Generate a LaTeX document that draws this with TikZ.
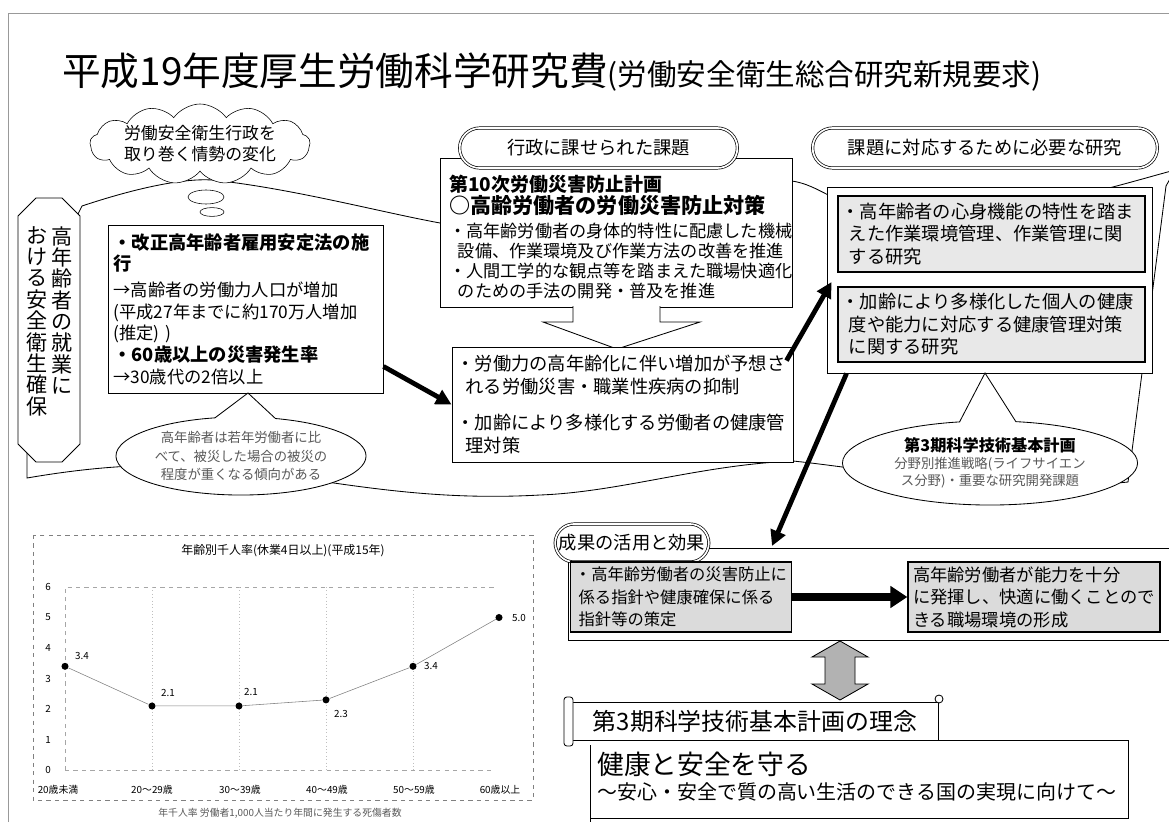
\documentclass[tikz,border=0pt]{standalone}
\usepackage{fontspec}
\setmainfont{Noto Sans CJK JP}
\usetikzlibrary{shapes.symbols,shapes.misc,shapes.geometric,shapes.callouts,arrows.meta,positioning,calc}

\begin{document}
\begin{tikzpicture}[x=0.025cm, y=-0.025cm,
    box/.style={draw, fill=white, line width=0.6pt, inner xsep=3pt, inner ysep=0pt, align=left},
    graybox/.style={box, fill=gray!18, line width=0.9pt},
    pill/.style={rounded rectangle, draw, double, double distance=1.2pt, line width=0.5pt, fill=white, minimum height=1cm,
      font=\fontsize{13}{15}\selectfont},
    bigarrow/.style={line width=3.4pt, -{Triangle[length=11pt,width=11pt]}},
    tag/.style={ellipse callout, draw, fill=white, line width=0.6pt, align=center, inner sep=0pt, callout pointer arc=28},
    small/.style={font=\fontsize{7}{8}\selectfont},
    chartdot/.style={circle, fill=black, inner sep=0pt, minimum size=5pt}
  ]
  \useasboundingbox (0,0) rectangle (1169,822);

  % page frame
  \draw[gray!80, line width=0.6pt] (8,822) -- (8,13) -- (1169,13);

  % title
  \node[anchor=west, inner sep=0pt] (title) at (62,72)
    {{\fontsize{27.5}{30}\selectfont 平成19年度厚生労働科学研究費}{\fontsize{21}{22}\selectfont (労働安全衛生総合研究新規要求)}};

  % banner behind the upper half
  \draw[fill=white, line width=0.6pt] (27,478) -- (27,300) -- (70,230) -- (82,206)
    .. controls (130,190) and (180,178) .. (212,180)
    .. controls (290,188) and (380,212) .. (440,223)
    .. controls (560,245) and (700,170) .. (792,181)
    .. controls (805,183) and (815,188) .. (830,196)
    .. controls (950,240) and (1100,190) .. (1175,170)
    -- (1166,186) -- (1128,482)
    .. controls (1000,495) and (880,470) .. (793,461)
    .. controls (700,465) and (620,492) .. (540,495)
    .. controls (450,500) and (380,490) .. (300,478)
    .. controls (200,460) and (120,462) .. (27,478) -- cycle;

  % situation cloud
  \node[ellipse, draw, fill=white, minimum width=0.6cm, minimum height=0.22cm, inner sep=0pt] (bub2) at (212,212) {};
  \node[ellipse, draw, fill=white, minimum width=0.9cm, minimum height=0.35cm, inner sep=0pt] (bub1) at (206,197) {};
  \node[cloud, draw, fill=white, cloud puffs=13, cloud puff arc=110, cloud ignores aspect,
        minimum width=5.5cm, minimum height=2.0cm, inner sep=0pt, align=center,
        font=\fontsize{12}{15}\selectfont] (josei) at (200,144)
    {労働安全衛生行政を\\取り巻く情勢の変化};

  % vertical label
  \draw[fill=white, line width=0.6pt] (18,216) -- (36,198) -- (62,198) -- (80,216)
    -- (80,444) -- (62,462) -- (36,462) -- (18,444) -- cycle;
  \node[anchor=north, inner sep=0pt, align=center, font=\fontsize{15}{15.2}\selectfont] (tate1) at (62,226)
    {高\\年\\齢\\者\\の\\就\\業\\に};
  \node[anchor=north, inner sep=0pt, align=center, font=\fontsize{15}{15.2}\selectfont] (tate2) at (37,226)
    {お\\け\\る\\安\\全\\衛\\生\\確\\保};

  % situation box
  \node[box, minimum width=6.875cm, minimum height=4.2cm, text width=6.6cm,
        font=\fontsize{12.3}{15.4}\selectfont] (sekou) at (245.5,309)
    {{\bfseries\fontsize{13}{15.4}\selectfont ・改正高年齢者雇用安定法の施\\行}\\[3pt]
     →高齢者の労働力人口が増加\\
     (平成27年までに約170万人増加\\
     (推定) )\\
     {\bfseries\fontsize{13}{15.4}\selectfont ・60歳以上の災害発生率}\\
     →30歳代の2倍以上};

  \node[tag, minimum width=6.25cm, minimum height=1.95cm, callout absolute pointer={(248,393)},
        text=gray!70!black, font=\fontsize{9.5}{13}\selectfont] (keiko) at (241,456)
    {高年齢者は若年労働者に比\\べて、被災した場合の被災の\\程度が重くなる傾向がある};

  % tasks of the administration
  \node[box, minimum width=8.8cm, minimum height=3.725cm] (kadai) at (616,232.5) {};
  \node[anchor=north west, inner sep=0pt, text width=8.55cm, align=left,
        font=\fontsize{12.2}{14.2}\selectfont] (kadaitext) at (449,175)
    {{\bfseries\fontsize{13.5}{14.2}\selectfont 第10次労働災害防止計画}\\
     {\bfseries\fontsize{15}{14.6}\selectfont ○高齢労働者の労働災害防止対策}\\[3pt]
     ・高年齢労働者の身体的特性に配慮した機械\\
     \hspace{0.5em}設備、作業環境及び作業方法の改善を推進\\
     ・人間工学的な観点等を踏まえた職場快適化\\
     \hspace{0.5em}のための手法の開発・普及を推進};
  \node[pill, minimum width=7.175cm] (gyosei) at (598.5,148) {行政に課せられた課題};

  \draw[fill=white, line width=0.6pt] (573,306) -- (573,322) -- (543,322) -- (617,349)
    -- (700,322) -- (660,322) -- (660,306);

  \node[box, minimum width=8.525cm, minimum height=2.875cm, text width=8.3cm,
        font=\fontsize{13}{16.3}\selectfont] (taisaku) at (622.5,404.5)
    {・労働力の高年齢化に伴い増加が予想さ\\
     \hspace{0.5em}れる労働災害・職業性疾病の抑制\\[9pt]
     ・加齢により多様化する労働者の健康管\\
     \hspace{0.5em}理対策};

  % research needed
  \node[box, minimum width=8.125cm, minimum height=4.65cm] (kenkyu) at (989.5,280) {};
  \node[graybox, inner xsep=2pt, minimum width=7.675cm, minimum height=1.9cm, text width=7.5cm,
        font=\fontsize{13}{16}\selectfont] (kenkyuA) at (991.5,234)
    {・高年齢者の心身機能の特性を踏ま\\
     \hspace{0.4em}えた作業環境管理、作業管理に関\\
     \hspace{0.4em}する研究};
  \node[graybox, inner xsep=2pt, minimum width=7.675cm, minimum height=1.875cm, text width=7.5cm,
        font=\fontsize{13}{16}\selectfont] (kenkyuB) at (991.5,324.5)
    {・加齢により多様化した個人の健康\\
     \hspace{0.4em}度や能力に対応する健康管理対策\\
     \hspace{0.4em}に関する研究};
  \node[pill, minimum width=8.85cm] (hitsuyo) at (985,148) {課題に対応するために必要な研究};

  \node[tag, minimum width=7.375cm, minimum height=2.1cm, callout absolute pointer={(985,373)},
        callout pointer arc=22] (kihon) at (990,463)
    {{\bfseries\fontsize{11.5}{14}\selectfont 第3期科学技術基本計画}\\
     {\color{gray!70!black}\fontsize{9.5}{12.5}\selectfont 分野別推進戦略(ライフサイエン}\\
     {\color{gray!70!black}\fontsize{9.5}{12.5}\selectfont ス分野)・重要な研究開発課題}};

  % connecting arrows
  \draw[bigarrow] ($(sekou.south east)+(0,-27)$) -- (taisaku.west);
  \draw[bigarrow] ($(taisaku.north east)+(-7,14)$) -- ($(kenkyu.west)+(5,2)$);
  \draw[bigarrow] ($(kenkyu.south west)+(20,0)$) -- (772,546);

  % results
  \draw[line width=0.6pt] (1175,548) -- (700,548);
  \draw[line width=0.6pt] (568,555) -- (568,640) -- (1175,640);
  \node[pill, minimum width=4.075cm, minimum height=0.95cm] (seika) at (632,543) {成果の活用と効果};
  \node[graybox, fill=gray!28, minimum width=5.45cm, minimum height=1.75cm,
        font=\fontsize{11.6}{16}\selectfont] (shishin) at (681,597)
    {・高年齢労働者の災害防止に\\
     \ 係る指針や健康確保に係る\\
     \ 指針等の策定};
  \node[graybox, fill=gray!28, minimum width=6.3cm, minimum height=1.75cm,
        font=\fontsize{12.3}{16}\selectfont] (kankyo) at (1034,597)
    {高年齢労働者が能力を十分\\
     に発揮し、快適に働くことので\\
     きる職場環境の形成};
  \draw[line width=5pt, -{Triangle[length=12pt,width=15pt]}] (shishin.east) -- (kankyo.west);

  \draw[fill=gray!60, line width=0.6pt] (840,641) -- (868,657) -- (855,657) -- (855,684) -- (868,684)
    -- (840,700) -- (812,684) -- (825,684) -- (825,657) -- (812,657) -- cycle;

  % philosophy of the basic plan
  \draw[line width=0.6pt] (590,745) -- (590,822) (590,740) -- (1128,740) -- (1128,818) -- (590,818);
  \node[draw, fill=white, line width=0.6pt, minimum width=9.15cm, minimum height=0.95cm,
        font=\fontsize{17}{19}\selectfont] (rinen) at (755,721) {第3期科学技術基本計画の理念};
  \draw[fill=white, rounded corners=2pt, line width=0.6pt] (564,697) rectangle (573,746);
  \draw[fill=white, line width=0.6pt] (939,699) circle (4);
  \node[anchor=west, inner sep=0pt, font=\fontsize{19}{21}\selectfont] (mamoru) at (597,764) {健康と安全を守る};
  \node[anchor=west, inner sep=0pt, font=\fontsize{14.2}{16}\selectfont] (jitsugen) at (597,792)
    {～安心・安全で質の高い生活のできる国の実現に向けて～};

  % accident rate chart
  \draw[gray, dashed, line width=0.5pt] (33,535) rectangle (533,800);
  \node[font=\fontsize{8.5}{10}\selectfont] (ctitle) at (283,551) {年齢別千人率(休業4日以上)(平成15年)};
  \draw[gray!70, dashed, line width=0.4pt] (65,770) -- (65,587) -- (495,587);
  \draw[gray!70, dashed, line width=0.4pt] (65,770) -- (495,770);
  \foreach \gx in {152,239,326,413}
    \draw[gray!50, dotted, line width=0.4pt] (\gx,587) -- (\gx,770);
  \foreach \v in {0,...,6}
    \node[small] (ylab\v) at (48,{770-30.5*\v}) {\v};
  \foreach \cx/\cl [count=\k] in {58/20歳未満, 152/20～29歳, 240/30～39歳, 327/40～49歳, 414/50～59歳, 500/60歳以上}
    \node[small] (xlab\k) at (\cx,790) {\cl};
  \foreach \i/\cx/\val/\dx/\dy in {1/65/3.4/17/-10, 2/152/2.1/16/-13, 3/239/2.1/12/-14, 4/326/2.3/15/14, 5/413/3.4/18/0, 6/499/5.0/20/0} {
    \node[chartdot] (p\i) at (\cx,{770-30.5*\val}) {};
    \node[small] (v\i) at ($(p\i)+(\dx,\dy)$) {\val};
  }
  \draw[gray, line width=0.4pt] (p1) -- (p2) -- (p3) -- (p4) -- (p5) -- (p6);
  \node[small, text=gray!70!black] (cnote) at (280,813) {年千人率 労働者1,000人当たり年間に発生する死傷者数};
\end{tikzpicture}
\end{document}
